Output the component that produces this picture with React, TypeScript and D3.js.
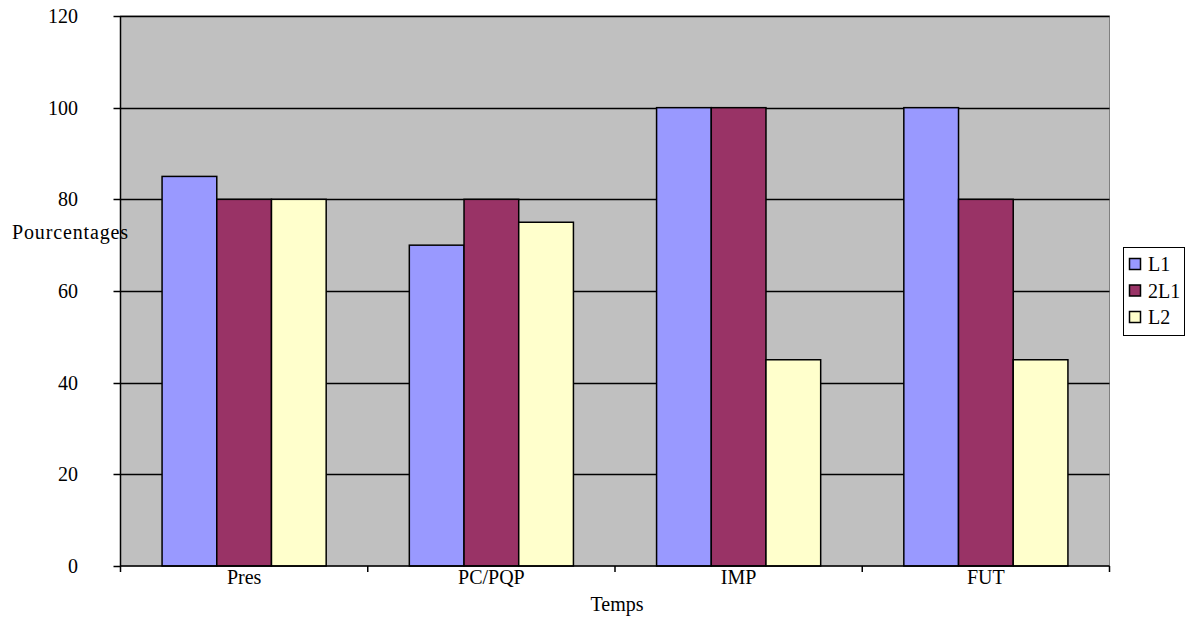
import React from "react";
import * as d3 from "d3";

const categories = ["Pres", "PC/PQP", "IMP", "FUT"];
const seriesNames = ["L1", "2L1", "L2"];
const L1 = [85, 70, 100, 100];
const L2_1 = [80, 80, 100, 80];
const L2 = [80, 75, 45, 45];
const seriesValues = [L1, L2_1, L2];
const colors = ["#9999FF", "#993366", "#FFFFCC"];
const yTicks = [0, 20, 40, 60, 80, 100, 120];

export default function App() {
  const W = 1186, H = 644;
  const left = 120.5, right = 1109.5, top = 16, bottom = 566;
  const x = d3.scaleBand<string>().domain(categories).range([left, right]).paddingInner(0).paddingOuter(0);
  const y = d3.scaleLinear().domain([0, 120]).range([bottom, top]);
  const x1 = d3.scaleBand<string>().domain(seriesNames).range([0, x.bandwidth()]).paddingOuter(0.76).paddingInner(0);
  const font = "'Liberation Serif', 'Times New Roman', serif";
  return (
    <svg width={W} height={H} style={{ position: "absolute", left: 0, top: 0 }} fontFamily={font}>
      <rect x={left} y={top} width={right - left} height={bottom - top} fill="#C0C0C0" stroke="#808080" strokeWidth={1} />
      {yTicks.filter(t => t > 0).map(t => (
        <line key={t} x1={left} x2={right} y1={Math.round(y(t)) + 0.5} y2={Math.round(y(t)) + 0.5} stroke="#000" strokeWidth={1.5} />
      ))}
      {seriesValues.map((vals, si) =>
        vals.map((v, ci) => {
          const bx = (x(categories[ci]) as number) + (x1(seriesNames[si]) as number);
          return (
            <rect key={`${si}-${ci}`} x={bx} y={y(v)} width={x1.bandwidth()} height={bottom - y(v)} fill={colors[si]} stroke="#000" strokeWidth={1.5} />
          );
        })
      )}
      <line x1={left} x2={left} y1={top} y2={bottom} stroke="#000" strokeWidth={1.5} />
      <line x1={left} x2={right} y1={bottom} y2={bottom} stroke="#000" strokeWidth={1.5} />
      {yTicks.map(t => (
        <g key={t}>
          <line x1={left - 7} x2={left} y1={Math.round(y(t)) + 0.5} y2={Math.round(y(t)) + 0.5} stroke="#000" strokeWidth={1.5} />
          <text x={78} y={y(t)} dy="0.35em" textAnchor="end" fontSize={20}>{t}</text>
        </g>
      ))}
      {categories.map(c => (
        <line key={c} x1={(x(c) as number)} x2={(x(c) as number)} y1={bottom} y2={bottom + 6} stroke="#000" strokeWidth={1.5} />
      ))}
      <line x1={right} x2={right} y1={bottom} y2={bottom + 6} stroke="#000" strokeWidth={1.5} />
      {categories.map(c => (
        <text key={c} x={(x(c) as number) + x.bandwidth() / 2} y={584} textAnchor="middle" fontSize={20}>{c}</text>
      ))}
      <text x={617} y={611} textAnchor="middle" fontSize={20}>Temps</text>
      <text x={12} y={239} fontSize={20} textLength={116} lengthAdjust="spacing">Pourcentages</text>
      <rect x={1123.5} y={247.5} width={61} height={88} fill="#fff" stroke="#000" strokeWidth={1} />
      {seriesNames.map((s, i) => (
        <g key={s}>
          <rect x={1129.5} y={258.5 + i * 26.5} width={11} height={11} fill={colors[i]} stroke="#000" strokeWidth={1.5} />
          <text x={1148} y={264 + i * 26.5} dy="0.35em" fontSize={20}>{s}</text>
        </g>
      ))}
    </svg>
  );
}
